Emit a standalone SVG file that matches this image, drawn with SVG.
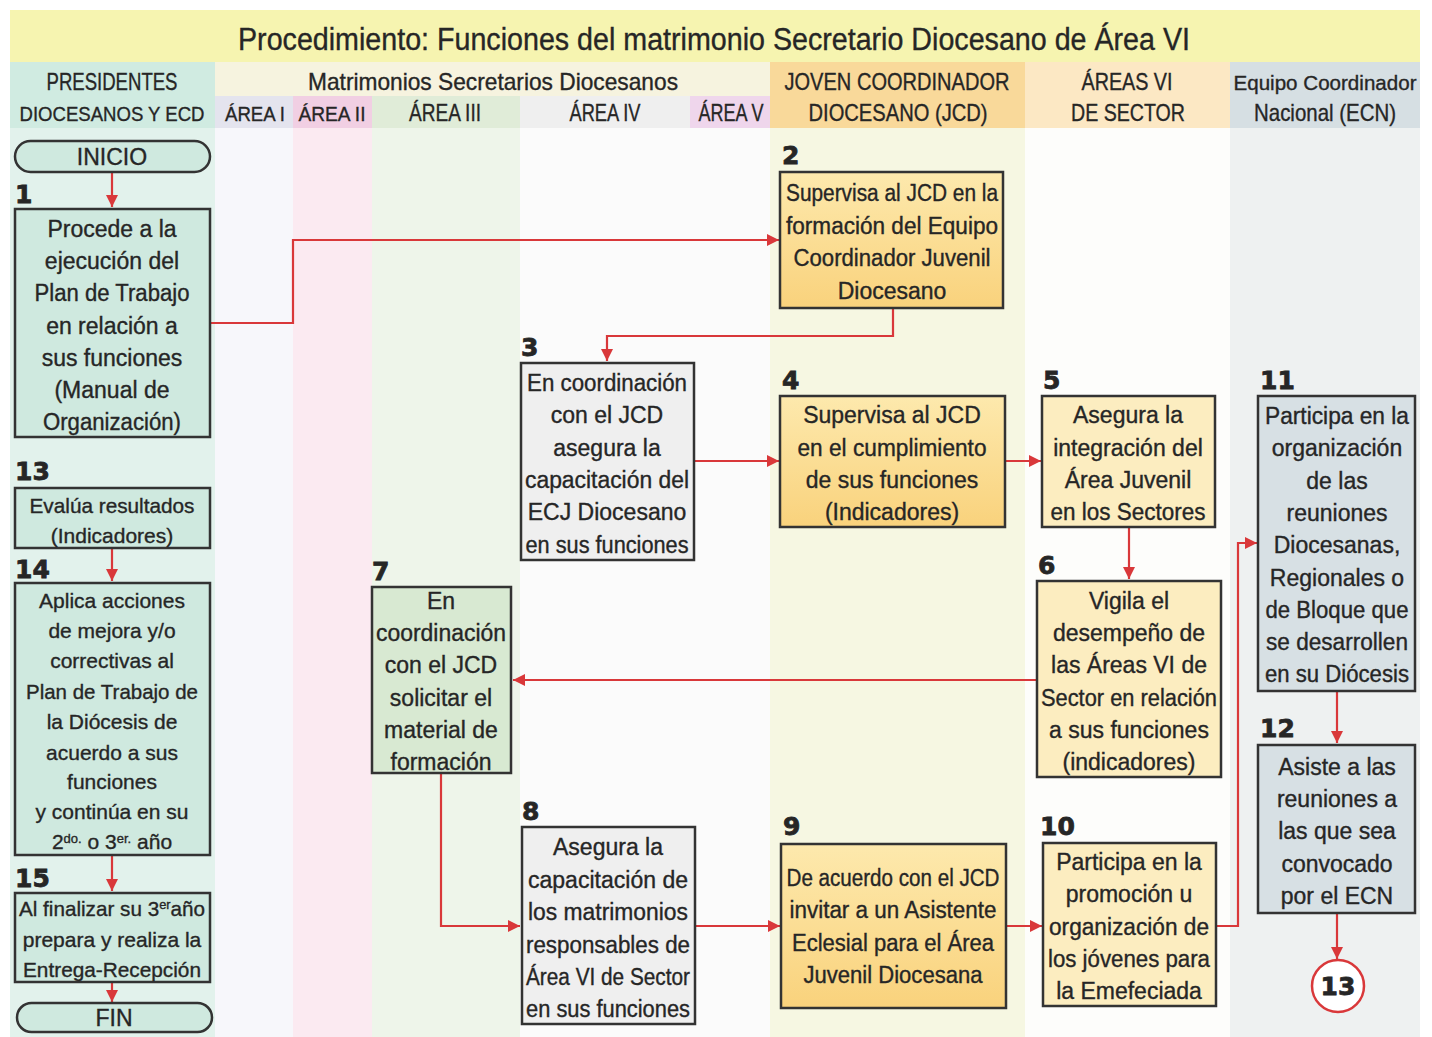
<svg xmlns="http://www.w3.org/2000/svg" width="1432" height="1037" viewBox="0 0 1432 1037">
<defs>
<marker id="ah" viewBox="0 0 10 10" refX="10" refY="5" markerWidth="12" markerHeight="12" markerUnits="userSpaceOnUse" orient="auto">
<path d="M0,0 L10,5 L0,10 z" fill="#d9383a"/>
</marker>
<linearGradient id="gold" x1="0" y1="0" x2="0" y2="1">
<stop offset="0" stop-color="#fde9ad"/>
<stop offset="1" stop-color="#f9d27c"/>
</linearGradient>
<style>
text{font-family:"Liberation Sans",Arial,sans-serif;fill:#262626;stroke:#262626;stroke-width:0.35px}
.t{font-size:23px;text-anchor:middle}
.s{font-size:21px;text-anchor:middle}
.h{font-size:24px;text-anchor:middle}
.hs{font-size:21px;text-anchor:middle}
.n{font-family:"DejaVu Sans",sans-serif;font-weight:bold;font-size:25px;stroke-width:0.8px}
.box{stroke:#333;stroke-width:2.5}
.g{fill:#cfe9df}
.o{fill:url(#gold)}
.y{fill:#fcedc0}
.w{fill:#efefef}
.gr{fill:#d8e9d2}
.b{fill:#d7e0e4}
.c{fill:none;stroke:#d9383a;stroke-width:2.2;marker-end:url(#ah)}
</style>
</defs>

<g id="background">
<rect x="0" y="0" width="1432" height="1037" fill="#ffffff"/>
<rect x="10" y="10" width="1410" height="52" fill="#f6f4b0"/>
<rect x="10" y="62" width="205" height="975" fill="#e2f2ec"/>
<rect x="10" y="62" width="205" height="66" fill="#d0ebe1"/>
<rect x="215" y="62" width="555" height="34" fill="#f6f3df"/>
<rect x="215" y="96" width="78" height="32" fill="#e4e4ee"/>
<rect x="293" y="96" width="79" height="32" fill="#f1cfe3"/>
<rect x="372" y="96" width="148" height="32" fill="#e0ecd8"/>
<rect x="520" y="96" width="170" height="32" fill="#efefef"/>
<rect x="690" y="96" width="80" height="32" fill="#efd6ec"/>
<rect x="215" y="128" width="78" height="909" fill="#f7f7fb"/>
<rect x="293" y="128" width="79" height="909" fill="#fbeaf1"/>
<rect x="372" y="128" width="148" height="909" fill="#eef5ea"/>
<rect x="520" y="128" width="250" height="909" fill="#fbfbfb"/>
<rect x="770" y="62" width="255" height="66" fill="#f9d99a"/>
<rect x="770" y="128" width="255" height="909" fill="#f6f7e2"/>
<rect x="1025" y="62" width="205" height="66" fill="#fce8c4"/>
<rect x="1025" y="128" width="205" height="909" fill="#fdfdfb"/>
<rect x="1230" y="62" width="190" height="66" fill="#d6dfe3"/>
<rect x="1230" y="128" width="190" height="909" fill="#eef1f1"/>
</g>

<g id="headers">
<text x="714" y="50" style="font-size:31px;text-anchor:middle" textLength="952" lengthAdjust="spacingAndGlyphs">Procedimiento: Funciones del matrimonio Secretario Diocesano de Área VI</text>
<text class="h" x="112" y="90" textLength="131" lengthAdjust="spacingAndGlyphs">PRESIDENTES</text>
<text class="hs" x="112" y="121" textLength="185" lengthAdjust="spacingAndGlyphs">DIOCESANOS Y ECD</text>
<text class="h" x="493" y="90" textLength="370" lengthAdjust="spacingAndGlyphs">Matrimonios Secretarios Diocesanos</text>
<text class="hs" x="255" y="121" textLength="60" lengthAdjust="spacingAndGlyphs">ÁREA I</text>
<text class="hs" x="332" y="121" textLength="67" lengthAdjust="spacingAndGlyphs">ÁREA II</text>
<text class="h" x="445" y="121" textLength="72" lengthAdjust="spacingAndGlyphs">ÁREA III</text>
<text class="h" x="605" y="121" textLength="71" lengthAdjust="spacingAndGlyphs">ÁREA IV</text>
<text class="h" x="731" y="121" textLength="65" lengthAdjust="spacingAndGlyphs">ÁREA V</text>
<text class="h" x="897" y="90" textLength="225" lengthAdjust="spacingAndGlyphs">JOVEN COORDINADOR</text>
<text class="h" x="898" y="121" textLength="179" lengthAdjust="spacingAndGlyphs">DIOCESANO (JCD)</text>
<text class="h" x="1127" y="90" textLength="91" lengthAdjust="spacingAndGlyphs">ÁREAS VI</text>
<text class="h" x="1128" y="121" textLength="114" lengthAdjust="spacingAndGlyphs">DE SECTOR</text>
<text class="hs" x="1325" y="90" textLength="183" lengthAdjust="spacingAndGlyphs">Equipo Coordinador</text>
<text class="h" x="1325" y="121" textLength="142" lengthAdjust="spacingAndGlyphs">Nacional (ECN)</text>
</g>

<g id="connectors">
<path class="c" d="M112,172 V207"/>
<path class="c" d="M210,323 H293 V240 H779"/>
<path class="c" d="M893,308 V336 H607 V361"/>
<path class="c" d="M694,461 H779"/>
<path class="c" d="M1005,461 H1041"/>
<path class="c" d="M1129,527 V579"/>
<path class="c" d="M1037,680 H513"/>
<path class="c" d="M441,773 V926 H520"/>
<path class="c" d="M695,926 H780"/>
<path class="c" d="M1006,926 H1042"/>
<path class="c" d="M1216,926 H1238 V543 H1257"/>
<path class="c" d="M1337,691 V743"/>
<path class="c" d="M1337,913 V959"/>
<path class="c" d="M112,548 V581"/>
<path class="c" d="M112,855 V891"/>
<path class="c" d="M112,982 V1002"/>
</g>

<g id="inicio">
<rect class="box g" x="15" y="141" width="195" height="31" rx="15.5"/>
<text class="t" x="112" y="165">INICIO</text>
</g>

<g id="node1">
<text class="n" x="15" y="203">1</text>
<rect class="box g" x="15" y="209" width="195" height="228"/>
<text class="t" x="112" y="237">Procede a la</text>
<text class="t" x="112" y="269">ejecución del</text>
<text class="t" x="112" y="301" textLength="155" lengthAdjust="spacingAndGlyphs">Plan de Trabajo</text>
<text class="t" x="112" y="334">en relación a</text>
<text class="t" x="112" y="366">sus funciones</text>
<text class="t" x="112" y="398">(Manual de</text>
<text class="t" x="112" y="430" textLength="138" lengthAdjust="spacingAndGlyphs">Organización)</text>
</g>

<g id="node2">
<text class="n" x="782" y="164">2</text>
<rect class="box o" x="780" y="172" width="223" height="136"/>
<text class="t" x="892" y="201" textLength="212" lengthAdjust="spacingAndGlyphs">Supervisa al JCD en la</text>
<text class="t" x="892" y="234" textLength="212" lengthAdjust="spacingAndGlyphs">formación del Equipo</text>
<text class="t" x="892" y="266" textLength="197" lengthAdjust="spacingAndGlyphs">Coordinador Juvenil</text>
<text class="t" x="892" y="299">Diocesano</text>
</g>

<g id="node3">
<text class="n" x="521" y="356">3</text>
<rect class="box w" x="521" y="363" width="173" height="197"/>
<text class="t" x="607" y="391" textLength="160" lengthAdjust="spacingAndGlyphs">En coordinación</text>
<text class="t" x="607" y="423">con el JCD</text>
<text class="t" x="607" y="456">asegura la</text>
<text class="t" x="607" y="488" textLength="164" lengthAdjust="spacingAndGlyphs">capacitación del</text>
<text class="t" x="607" y="520">ECJ Diocesano</text>
<text class="t" x="607" y="553" textLength="163" lengthAdjust="spacingAndGlyphs">en sus funciones</text>
</g>

<g id="node4">
<text class="n" x="782" y="389">4</text>
<rect class="box o" x="780" y="396" width="225" height="131"/>
<text class="t" x="892" y="423">Supervisa al JCD</text>
<text class="t" x="892" y="456" textLength="189" lengthAdjust="spacingAndGlyphs">en el cumplimiento</text>
<text class="t" x="892" y="488">de sus funciones</text>
<text class="t" x="892" y="520">(Indicadores)</text>
</g>

<g id="node5">
<text class="n" x="1043" y="389">5</text>
<rect class="box y" x="1042" y="396" width="173" height="131"/>
<text class="t" x="1128" y="423">Asegura la</text>
<text class="t" x="1128" y="456">integración del</text>
<text class="t" x="1128" y="488">Área Juvenil</text>
<text class="t" x="1128" y="520" textLength="155" lengthAdjust="spacingAndGlyphs">en los Sectores</text>
</g>

<g id="node6">
<text class="n" x="1038" y="574">6</text>
<rect class="box y" x="1037" y="581" width="184" height="196"/>
<text class="t" x="1129" y="609">Vigila el</text>
<text class="t" x="1129" y="641">desempeño de</text>
<text class="t" x="1129" y="673">las Áreas VI de</text>
<text class="t" x="1129" y="706" textLength="176" lengthAdjust="spacingAndGlyphs">Sector en relación</text>
<text class="t" x="1129" y="738">a sus funciones</text>
<text class="t" x="1129" y="770">(indicadores)</text>
</g>

<g id="node7">
<text class="n" x="372" y="580">7</text>
<rect class="box gr" x="372" y="587" width="139" height="186"/>
<text class="t" x="441" y="609">En</text>
<text class="t" x="441" y="641" textLength="130" lengthAdjust="spacingAndGlyphs">coordinación</text>
<text class="t" x="441" y="673">con el JCD</text>
<text class="t" x="441" y="706">solicitar el</text>
<text class="t" x="441" y="738">material de</text>
<text class="t" x="441" y="770">formación</text>
</g>

<g id="node8">
<text class="n" x="522" y="820">8</text>
<rect class="box w" x="522" y="827" width="173" height="197"/>
<text class="t" x="608" y="855">Asegura la</text>
<text class="t" x="608" y="888" textLength="160" lengthAdjust="spacingAndGlyphs">capacitación de</text>
<text class="t" x="608" y="920" textLength="160" lengthAdjust="spacingAndGlyphs">los matrimonios</text>
<text class="t" x="608" y="953" textLength="164" lengthAdjust="spacingAndGlyphs">responsables de</text>
<text class="t" x="608" y="985" textLength="164" lengthAdjust="spacingAndGlyphs">Área VI de Sector</text>
<text class="t" x="608" y="1017" textLength="164" lengthAdjust="spacingAndGlyphs">en sus funciones</text>
</g>

<g id="node9">
<text class="n" x="783" y="835">9</text>
<rect class="box o" x="781" y="844" width="225" height="164"/>
<text class="t" x="893" y="886" textLength="213" lengthAdjust="spacingAndGlyphs">De acuerdo con el JCD</text>
<text class="t" x="893" y="918" textLength="207" lengthAdjust="spacingAndGlyphs">invitar a un Asistente</text>
<text class="t" x="893" y="951" textLength="202" lengthAdjust="spacingAndGlyphs">Eclesial para el Área</text>
<text class="t" x="893" y="983" textLength="179" lengthAdjust="spacingAndGlyphs">Juvenil Diocesana</text>
</g>

<g id="node10">
<text class="n" x="1040" y="835">10</text>
<rect class="box y" x="1043" y="843" width="173" height="163"/>
<text class="t" x="1129" y="870">Participa en la</text>
<text class="t" x="1129" y="902">promoción u</text>
<text class="t" x="1129" y="935" textLength="160" lengthAdjust="spacingAndGlyphs">organización de</text>
<text class="t" x="1129" y="967" textLength="162" lengthAdjust="spacingAndGlyphs">los jóvenes para</text>
<text class="t" x="1129" y="999">la Emefeciada</text>
</g>

<g id="node11">
<text class="n" x="1260" y="389">11</text>
<rect class="box b" x="1258" y="396" width="157" height="295"/>
<text class="t" x="1337" y="424" textLength="144" lengthAdjust="spacingAndGlyphs">Participa en la</text>
<text class="t" x="1337" y="456">organización</text>
<text class="t" x="1337" y="489">de las</text>
<text class="t" x="1337" y="521">reuniones</text>
<text class="t" x="1337" y="553">Diocesanas,</text>
<text class="t" x="1337" y="586">Regionales o</text>
<text class="t" x="1337" y="618" textLength="143" lengthAdjust="spacingAndGlyphs">de Bloque que</text>
<text class="t" x="1337" y="650" textLength="142" lengthAdjust="spacingAndGlyphs">se desarrollen</text>
<text class="t" x="1337" y="682" textLength="144" lengthAdjust="spacingAndGlyphs">en su Diócesis</text>
</g>

<g id="node12">
<text class="n" x="1260" y="737">12</text>
<rect class="box b" x="1258" y="745" width="157" height="168"/>
<text class="t" x="1337" y="775">Asiste a las</text>
<text class="t" x="1337" y="807">reuniones a</text>
<text class="t" x="1337" y="839">las que sea</text>
<text class="t" x="1337" y="872">convocado</text>
<text class="t" x="1337" y="904">por el ECN</text>
</g>

<g id="connector13">
<circle cx="1338" cy="986" r="26" fill="#ffffff" stroke="#d9383a" stroke-width="2.5"/>
<text class="n" x="1338" y="995" style="text-anchor:middle">13</text>
</g>

<g id="node13">
<text class="n" x="15" y="480">13</text>
<rect class="box g" x="15" y="488" width="195" height="60"/>
<text class="s" x="112" y="513" textLength="165" lengthAdjust="spacingAndGlyphs">Evalúa resultados</text>
<text class="s" x="112" y="543">(Indicadores)</text>
</g>

<g id="node14">
<text class="n" x="15" y="578">14</text>
<rect class="box g" x="15" y="583" width="195" height="272"/>
<text class="s" x="112" y="608">Aplica acciones</text>
<text class="s" x="112" y="638">de mejora y/o</text>
<text class="s" x="112" y="668">correctivas al</text>
<text class="s" x="112" y="699" textLength="172" lengthAdjust="spacingAndGlyphs">Plan de Trabajo de</text>
<text class="s" x="112" y="729">la Diócesis de</text>
<text class="s" x="112" y="760">acuerdo a sus</text>
<text class="s" x="112" y="789">funciones</text>
<text class="s" x="112" y="819">y continúa en su</text>
<text class="s" x="112" y="849">2<tspan style="font-size:13px" dy="-6">do.</tspan><tspan dy="6"> o 3</tspan><tspan style="font-size:13px" dy="-6">er.</tspan><tspan dy="6"> año</tspan></text>
</g>

<g id="node15">
<text class="n" x="15" y="887">15</text>
<rect class="box g" x="15" y="893" width="195" height="89"/>
<text class="s" x="112" y="916" textLength="186" lengthAdjust="spacingAndGlyphs">Al finalizar su 3<tspan style="font-size:13px" dy="-7">er</tspan><tspan dy="7">año</tspan></text>
<text class="s" x="112" y="947">prepara y realiza la</text>
<text class="s" x="112" y="977" textLength="178" lengthAdjust="spacingAndGlyphs">Entrega-Recepción</text>
</g>

<g id="fin">
<rect class="box g" x="17" y="1003" width="195" height="29" rx="14.5"/>
<text class="t" x="114" y="1026">FIN</text>
</g>
</svg>
